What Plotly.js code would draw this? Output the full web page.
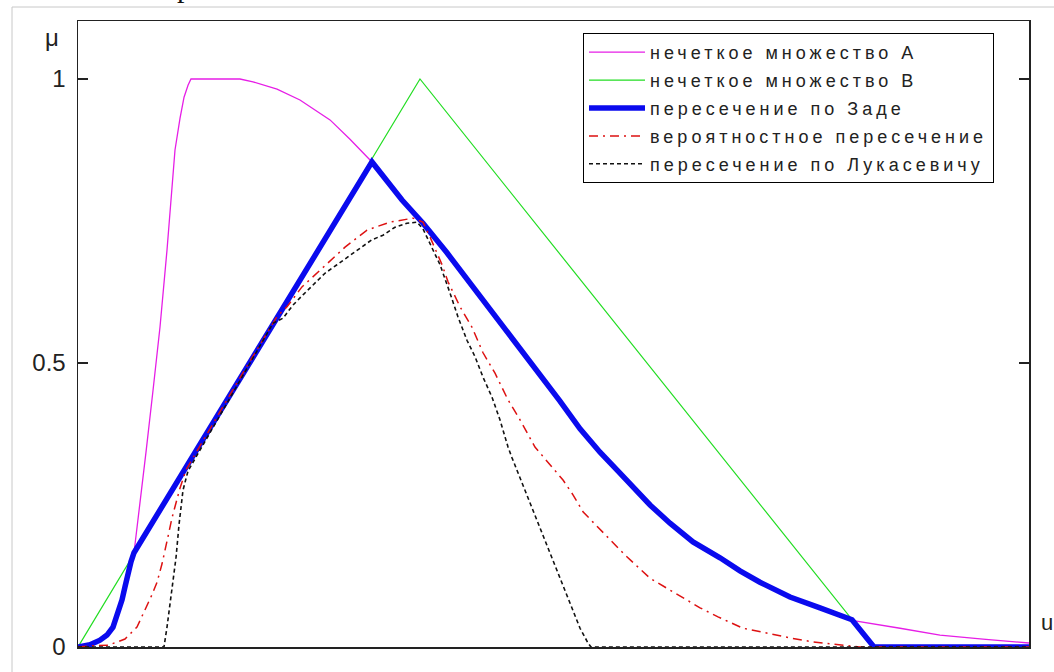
<!DOCTYPE html>
<html>
<head>
<meta charset="utf-8">
<script src="https://cdn.plot.ly/plotly-3.0.1.min.js"></script>
<style>
html,body{margin:0;padding:0;background:#fff;overflow:hidden;}
#chart{width:1054px;height:672px;}
.legendtext{letter-spacing:4px;}
</style>
</head>
<body>
<div id="chart"></div>
<script>
// Series names (legend)
const seriesNames = [
  'нечеткое множество А',
  'нечеткое множество В',
  'пересечение по Заде',
  'вероятностное пересечение',
  'пересечение по Лукасевичу'
];

// Fuzzy set A
const xA = [0,0.126,0.231,0.305,0.368,0.421,0.463,0.494,0.526,0.557,
  0.589,0.652,0.715,0.789,0.862,0.936,0.988,1.020,1.073,1.115,
  1.157,1.188,1.703,1.840,2.093,2.334,2.650,2.860,3.091,3.407,
  3.628,3.880,4.122,4.364,4.574,4.826,5.068,5.279,5.489,5.699,
  6.015,6.225,6.467,6.751,6.961,7.171,7.487,7.802,8.013,8.170,
  8.644,9.064,9.516,10];
const yA = [0,0.004,0.012,0.021,0.035,0.060,0.083,0.106,0.130,0.150,
  0.166,0.250,0.343,0.452,0.563,0.699,0.805,0.875,0.931,0.968,
  0.989,1.0,1.0,0.995,0.982,0.963,0.928,0.894,0.854,0.787,
  0.746,0.694,0.641,0.588,0.540,0.488,0.433,0.384,0.343,0.306,
  0.250,0.218,0.185,0.157,0.134,0.114,0.088,0.069,0.056,0.046,
  0.033,0.021,0.014,0.007];

// Fuzzy set B
const xB = [0,3.596,8.370,10];
const yB = [0,1,0,0];

// Zadeh intersection
const xZ = [0,0.126,0.231,0.305,0.368,0.421,0.463,0.494,0.526,0.557,
  0.589,3.091,3.407,3.628,3.880,4.122,4.364,4.574,4.826,5.068,
  5.279,5.489,5.699,6.015,6.225,6.467,6.751,6.961,7.171,7.487,
  7.802,8.013,8.139,8.370,10];
const yZ = [0,0.004,0.012,0.021,0.035,0.060,0.083,0.106,0.130,0.150,
  0.166,0.854,0.787,0.746,0.694,0.641,0.588,0.540,0.488,0.433,
  0.384,0.343,0.306,0.250,0.218,0.185,0.157,0.134,0.114,0.088,
  0.069,0.056,0.048,0,0];

// Probabilistic intersection
const xR = [0,0.126,0.315,0.494,0.620,0.705,0.778,0.831,0.883,0.946,
  0.988,1.031,1.073,1.136,1.703,2.093,2.198,2.355,2.545,2.808,
  3.039,3.281,3.523,3.628,3.701,3.828,3.891,4.017,4.143,4.259,
  4.385,4.522,4.648,4.805,5.100,5.205,5.310,5.521,5.752,6.015,
  6.257,6.541,6.730,6.993,7.203,7.487,7.729,7.981,8.223,10];
const yR = [0,0.002,0.003,0.014,0.035,0.065,0.092,0.114,0.146,0.194,
  0.227,0.254,0.280,0.312,0.474,0.582,0.599,0.634,0.664,0.704,
  0.734,0.748,0.755,0.748,0.722,0.673,0.643,0.599,0.563,0.518,
  0.482,0.435,0.400,0.352,0.294,0.268,0.238,0.201,0.162,0.121,
  0.097,0.069,0.053,0.033,0.026,0.016,0.009,0.004,0,0];

// Lukasiewicz intersection
const xK = [0,0.904,0.936,0.967,0.999,1.031,1.062,1.083,1.104,1.157,
  2.050,2.156,2.261,2.366,2.471,2.597,2.723,2.839,2.965,3.091,
  3.207,3.333,3.459,3.565,3.628,3.722,3.807,3.912,3.996,4.090,
  4.175,4.259,4.353,4.437,4.522,4.564,4.826,5.089,5.205,5.279,
  5.363,5.394,10];
const yK = [0,0,0.035,0.077,0.114,0.158,0.215,0.241,0.276,0.310,
  0.570,0.579,0.602,0.620,0.637,0.658,0.673,0.687,0.702,0.717,
  0.725,0.739,0.746,0.748,0.736,0.702,0.673,0.623,0.581,0.540,
  0.511,0.475,0.440,0.400,0.352,0.333,0.224,0.113,0.065,0.033,
  0.007,0,0];

// Axis ticks
const yTickVals = [0, 0.5, 1];
const yTickText = ['0', '0.5', '1'];

const traces = [
  {x:xA, y:yA, name:seriesNames[0], legendgroup:'a', mode:'lines',
   line:{color:'#e61ee6', width:1.3}},
  {x:xB, y:yB, name:seriesNames[1], legendgroup:'b', mode:'lines',
   line:{color:'#22dd22', width:1.2}},
  {x:xZ, y:yZ, name:seriesNames[2], legendgroup:'c', mode:'lines',
   line:{color:'#0a0aee', width:5.5}},
  {x:xR, y:yR, name:seriesNames[3], legendgroup:'d', mode:'lines',
   line:{color:'#dd1111', width:1.5, dash:'9px,5px,2px,5px'}},
  {x:xK, y:yK, name:seriesNames[4], legendgroup:'e', mode:'lines',
   line:{color:'#111111', width:1.6, dash:'4px,3px'}}
];

const layout = {
  width:1054, height:672,
  margin:{l:78, r:25, t:21, b:25, pad:0},
  paper_bgcolor:'#ffffff', plot_bgcolor:'#ffffff',
  font:{family:'Liberation Sans, Arial, sans-serif', color:'#222', size:18},
  showlegend:true,
  legend:{
    x:(583-78)/951, xanchor:'left',
    y:1-(33-21)/626, yanchor:'top',
    bordercolor:'#000', borderwidth:1, bgcolor:'#ffffff',
    font:{family:'Liberation Sans, Arial, sans-serif', size:18, color:'#222'},
    tracegroupgap:1.5, traceorder:'grouped', itemwidth:56
  },
  xaxis:{
    range:[0,10], showgrid:false, zeroline:false, showticklabels:false,
    ticks:'', showline:true, linecolor:'#222', linewidth:1.5, mirror:true,
    fixedrange:true
  },
  yaxis:{
    range:[0,(647-21)/568], showgrid:false, zeroline:false,
    tickvals:yTickVals, ticktext:yTickText,
    ticks:'inside', ticklen:10, tickwidth:1.5, tickcolor:'#222',
    showline:true, linecolor:'#222', linewidth:1.5, mirror:'ticks',
    tickfont:{family:'Liberation Sans, Arial, sans-serif', size:24, color:'#222'},
    ticklabelstandoff:6, fixedrange:true
  },
  shapes:[
    {type:'rect', xref:'paper', yref:'paper',
     x0:(12-78)/951, x1:1.2, y0:-0.2, y1:1+(21-7)/626,
     line:{color:'#c8c8c8', width:1}, fillcolor:'rgba(0,0,0,0)', layer:'below'}
  ],
  annotations:[
    {text:'μ', xref:'paper', yref:'paper', x:(52-78)/951, y:1-(37-21)/626,
     xanchor:'center', yanchor:'middle', showarrow:false,
     font:{family:'Liberation Sans, Arial, sans-serif', size:24, color:'#222'}},
    {text:'u', xref:'paper', yref:'paper', x:(1047-78)/951, y:(647-622)/626,
     xanchor:'center', yanchor:'middle', showarrow:false,
     font:{family:'Liberation Sans, Arial, sans-serif', size:22, color:'#222'}},
    {text:'р', xref:'paper', yref:'paper', x:(176-78)/951, y:1+(21-4)/626,
     xanchor:'left', yanchor:'bottom', showarrow:false, borderpad:0,
     font:{family:'Liberation Serif, serif', size:30, color:'#111'}}
  ]
};

Plotly.newPlot('chart', traces, layout, {displayModeBar:false, staticPlot:true});
</script>
</body>
</html>
